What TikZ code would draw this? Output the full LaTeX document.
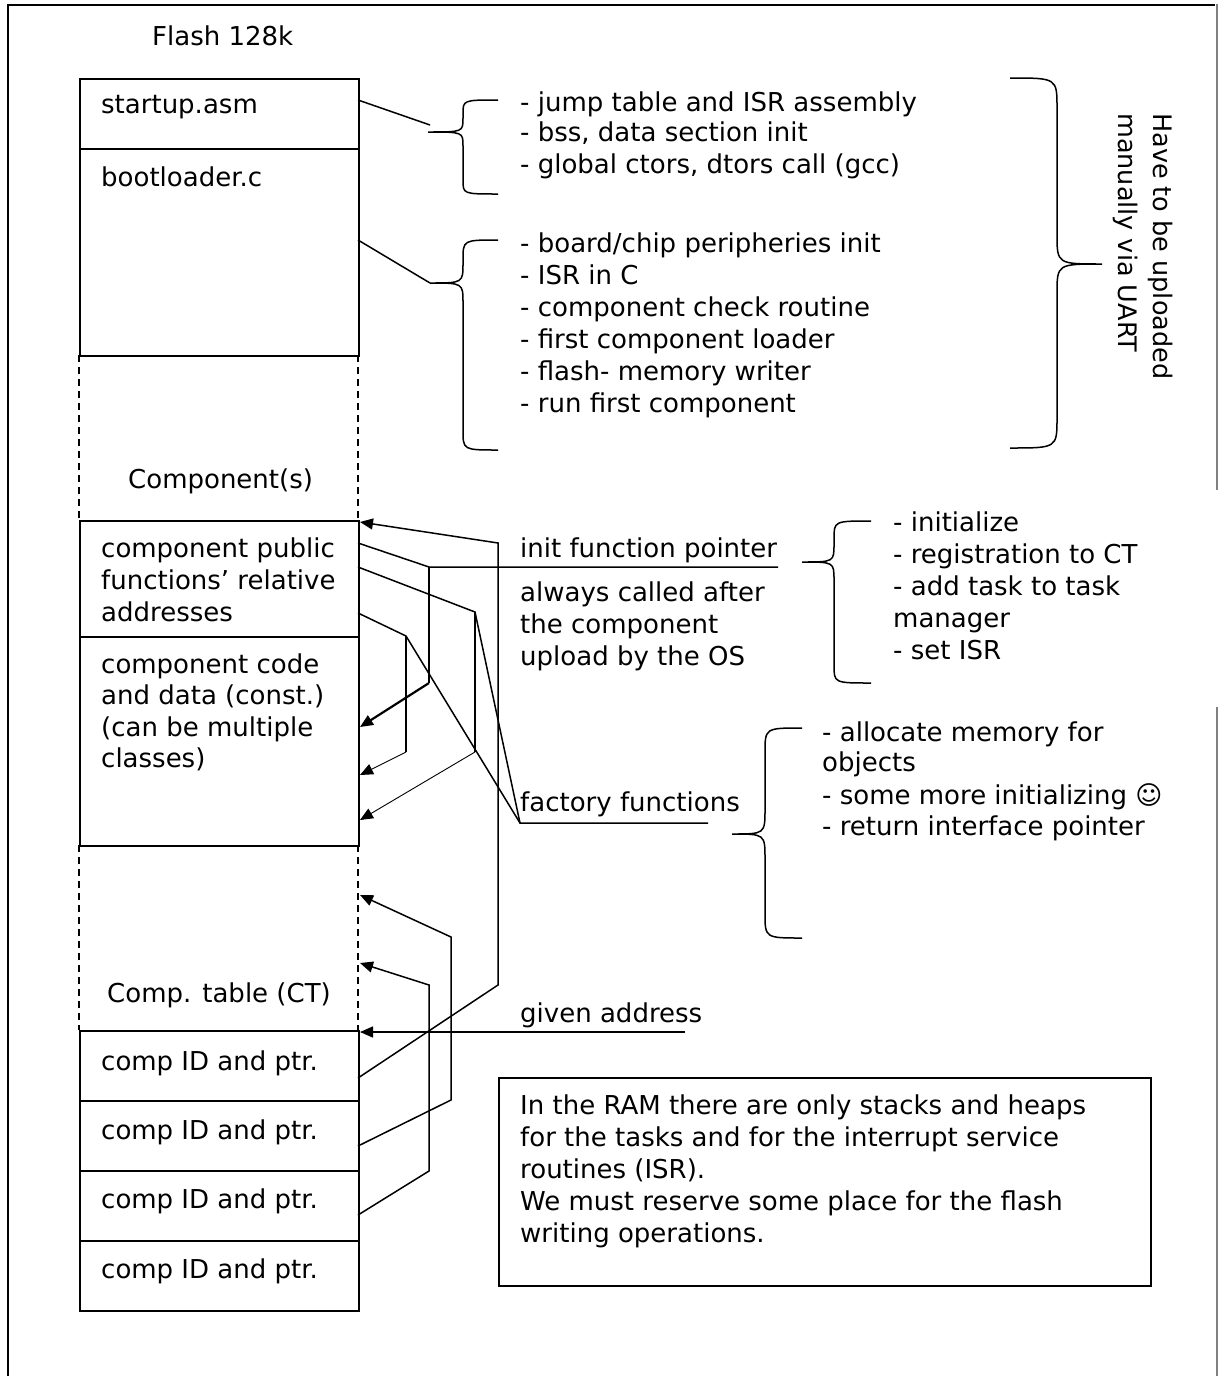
\documentclass[tikz,border=0pt]{standalone}
\usepackage{fontspec}
\setmainfont{DejaVu Sans}
\usetikzlibrary{arrows.meta}
\newcommand\brc[7]{\draw[bracel] (#6,#4) .. controls (#3,#4) .. (#3,#4+#7) -- (#3,#2-#7) .. controls (#3,#2) .. (#1,#2) .. controls (#3,#2) .. (#3,#2+#7) -- (#3,#5-#7) .. controls (#3,#5) .. (#6,#5);}
\begin{document}
\begin{tikzpicture}[x=1pt,y=-1pt,
  txt/.style={anchor=base west, inner sep=0pt, font=\fontsize{26}{32}\selectfont},
  memblk/.style={draw, line width=1.5pt, anchor=north west, minimum width=279pt, inner sep=0pt},
  conn/.style={line width=1.5pt, line join=miter},
  bracel/.style={line width=1.5pt},
  arr/.style={conn, -{Triangle[length=13pt,width=11pt]}},
  thickarr/.style={line width=2.2pt, -{Triangle[length=13pt,width=11pt]}},
  thinarr/.style={line width=0.9pt, -{Triangle[length=13pt,width=11pt]}},
]
\useasboundingbox (0,0) rectangle (1219,1376);
% frame
\draw[line width=1.5pt] (8,1376) -- (8,5) -- (1215,5);
\draw[gray, line width=1.2pt] (1217,4) -- (1217,490);
\draw[gray, line width=1.2pt] (1217,707) -- (1217,1376);

% memory column
\node[memblk, minimum height=70pt] (startup) at (79,78) {};
\node[memblk, minimum height=207pt] (boot) at (79,148) {};
\draw[dashed, line width=1.2pt, dash pattern=on 7pt off 5pt] (79,355) -- (79,520) (358,355) -- (358,520);
\node[memblk, minimum height=116pt] (pub) at (79,520) {};
\node[memblk, minimum height=209pt] (code) at (79,636) {};
\draw[dashed, line width=1.2pt, dash pattern=on 7pt off 5pt] (79,845) -- (79,1030) (358,845) -- (358,1030);
\node[memblk, minimum height=70pt] (ct1) at (79,1030) {};
\node[memblk, minimum height=70pt] (ct2) at (79,1100) {};
\node[memblk, minimum height=70pt] (ct3) at (79,1170) {};
\node[memblk, minimum height=70pt] (ct4) at (79,1240) {};

% texts in column
\node[txt] (tflash) at (152,45) {Flash 128k};
\node[txt] (tstart) at (101,113) {startup.asm};
\node[txt] (tboot) at (101,186) {bootloader.c};
\node[txt] (tcomp) at (128,488) {Component(s)};
\node[txt] (tpub1) at (101,557) {component public};
\node[txt] (tpub2) at (101,589) {functions’ relative};
\node[txt] (tpub3) at (101,621) {addresses};
\node[txt] (tcode1) at (101,673) {component code};
\node[txt] (tcode2) at (101,704) {and data (const.)};
\node[txt] (tcode3) at (101,736) {(can be multiple};
\node[txt] (tcode4) at (101,767) {classes)};
\node[txt] (tct) at (107,1002) {Comp. table (CT)};
\node[txt] (tct1) at (101,1070) {comp ID and ptr.};
\node[txt] (tct2) at (101,1139) {comp ID and ptr.};
\node[txt] (tct3) at (101,1208) {comp ID and ptr.};
\node[txt] (tct4) at (101,1278) {comp ID and ptr.};

% brace 1 and 2
\coordinate (sA) at (358,100);
\coordinate (sB) at (430,125);
\draw[conn] (sA) -- (sB);
\brc{428}{132}{463}{100}{194}{498}{14}
\node[txt] (b1a) at (520,111) {- jump table and ISR assembly};
\node[txt] (b1b) at (520,141) {- bss, data section init};
\node[txt] (b1c) at (520,173) {- global ctors, dtors call (gcc)};

\coordinate (bA) at (358,240);
\coordinate (bB) at (430,283);
\draw[conn] (bA) -- (bB);
\brc{430}{283}{463}{240}{450}{498}{20}
\node[txt] (b2a) at (520,252) {- board/chip peripheries init};
\node[txt] (b2b) at (520,284) {- ISR in C};
\node[txt] (b2c) at (520,316) {- component check routine};
\node[txt] (b2d) at (520,348) {- first component loader};
\node[txt] (b2e) at (520,380) {- flash- memory writer};
\node[txt] (b2f) at (520,412) {- run first component};

% big brace
\brc{1102}{264}{1057}{78}{448}{1010}{30}
\node[rotate=-90, anchor=west, align=left, inner sep=0pt, font=\fontsize{25.5}{35}\selectfont] (upl) at (1143,113) {Have to be uploaded\\manually via UART};

% init function pointer
\node[txt] (tinit) at (520,557) {init function pointer};
\node[txt] (tal1) at (520,601) {always called after};
\node[txt] (tal2) at (520,633) {the component};
\node[txt] (tal3) at (520,665) {upload by the OS};
\brc{802}{562}{834}{521}{683}{871}{18}
\node[txt] (b3a) at (893,531) {- initialize};
\node[txt] (b3b) at (893,563) {- registration to CT};
\node[txt] (b3c) at (893,595) {- add task to task};
\node[txt] (b3d) at (893,627) {manager};
\node[txt] (b3e) at (893,659) {- set ISR};

% factory functions
\node[txt] (tfac) at (520,811) {factory functions};
\brc{732}{834}{765}{728}{938}{802}{25}
\node[txt] (b4a) at (822,741) {- allocate memory for};
\node[txt] (b4b) at (822,771) {objects};
\node[txt] (b4c) at (822,804) {- some more initializing ☺};
\node[txt] (b4d) at (822,835) {- return interface pointer};

% given address
\node[txt] (tgiven) at (520,1022) {given address};

% bend points
\coordinate (p1a) at (358,1078);
\coordinate (p1b) at (498,985);
\coordinate (p1c) at (498,543);
\coordinate (p1t) at (360,522);

\coordinate (p2a) at (358,543);
\coordinate (p2b) at (429,567);
\coordinate (p2u) at (778,567);
\coordinate (p2c) at (429,683);
\coordinate (p2t) at (360,727);

\coordinate (p3a) at (358,567);
\coordinate (p3b) at (475,612);
\coordinate (fac) at (520,823);
\coordinate (facu) at (708,823);
\coordinate (p3c) at (475,752);
\coordinate (p3t) at (360,820);

\coordinate (p4a) at (358,613);
\coordinate (p4b) at (406,636);
\coordinate (p4c) at (406,752);
\coordinate (p4t) at (360,775);

\coordinate (p5a) at (358,1146);
\coordinate (p5b) at (451,1100);
\coordinate (p5c) at (451,937);
\coordinate (p5t) at (360,895);

\coordinate (p6a) at (358,1215);
\coordinate (p6b) at (429,1171);
\coordinate (p6c) at (429,985);
\coordinate (p6t) at (360,963);

\coordinate (gA) at (685,1032);
\coordinate (gT) at (360,1032);

\draw[arr] (p1a) -- (p1b) -- (p1c) -- (p1t);
\draw[conn] (p2a) -- (p2b) -- (p2u);
\draw[conn] (p2b) -- (p2c);
\draw[thickarr] (p2c) -- (p2t);
\draw[conn] (p3a) -- (p3b) -- (fac) -- (facu);
\draw[conn] (p3b) -- (p3c);
\draw[thinarr] (p3c) -- (p3t);
\draw[conn] (p4a) -- (p4b) -- (fac);
\draw[conn] (p4b) -- (p4c);
\draw[thinarr] (p4c) -- (p4t);
\draw[arr] (p5a) -- (p5b) -- (p5c) -- (p5t);
\draw[arr] (p6a) -- (p6b) -- (p6c) -- (p6t);
\draw[arr] (gA) -- (gT);

% RAM note
\node[draw, line width=1.5pt, anchor=north west, minimum width=652pt, minimum height=208pt, inner sep=0pt] (ram) at (498,1077) {};
\node[txt] (r1) at (520,1114) {In the RAM there are only stacks and heaps};
\node[txt] (r2) at (520,1146) {for the tasks and for the interrupt service};
\node[txt] (r3) at (520,1178) {routines (ISR).};
\node[txt] (r4) at (520,1210) {We must reserve some place for the flash};
\node[txt] (r5) at (520,1242) {writing operations.};
\end{tikzpicture}
\end{document}
